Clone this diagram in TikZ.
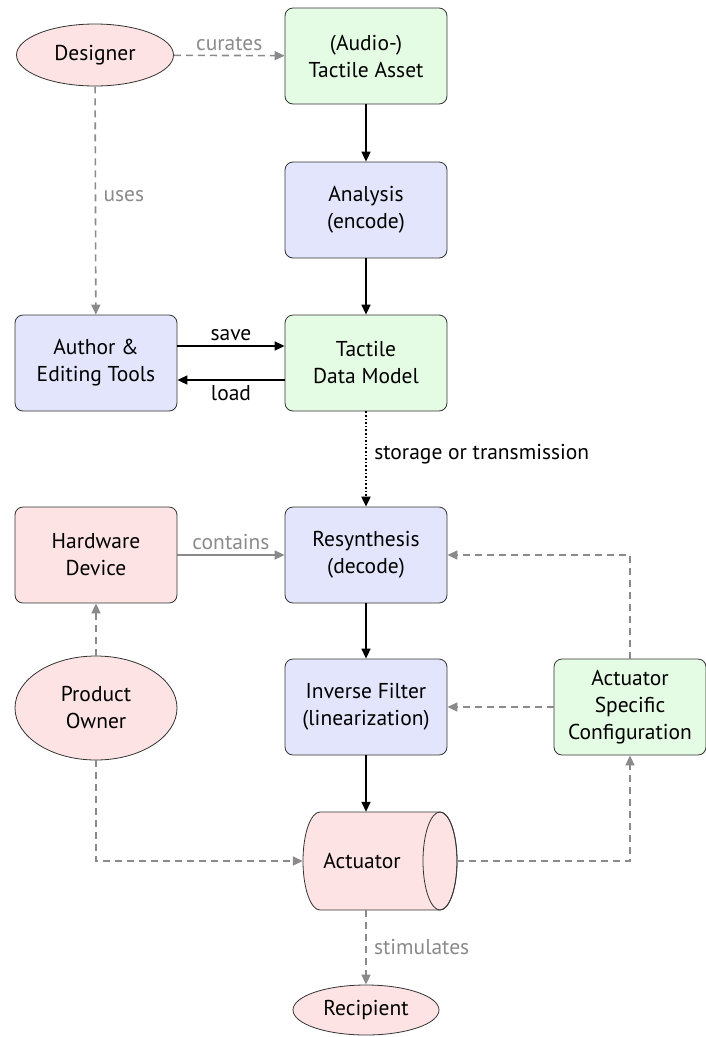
\documentclass[tikz,border=0pt]{standalone}
\usepackage{fontspec}
\setmainfont{PT Sans}
\usetikzlibrary{shapes.geometric,arrows.meta,positioning}
\definecolor{pinkf}{HTML}{FDE3E3}
\definecolor{greenf}{HTML}{E4FBE4}
\definecolor{bluef}{HTML}{E2E5FB}
\definecolor{grayl}{HTML}{8A8A8A}
\begin{document}
\begin{tikzpicture}[x=1pt,y=-1pt,
  every node/.style={font=\fontsize{21.5}{27}\selectfont},
  box/.style={draw=black!80,line width=0.8pt,rounded corners=8pt,minimum width=162pt,minimum height=96pt,align=center,inner sep=2pt},
  ell/.style={draw=black!80,line width=0.8pt,ellipse,align=center,inner sep=0pt},
  blk/.style={draw=black,line width=1.6pt,-{Triangle[length=10pt,width=9pt]}},
  gry/.style={draw=grayl,line width=1.6pt,-{Triangle[length=10pt,width=9pt]}},
  gdash/.style={gry,dash pattern=on 7pt off 5pt},
  glab/.style={text=grayl},
]
\useasboundingbox (0,0) rectangle (706,1037);
\node[ell,fill=pinkf,minimum width=157pt,minimum height=62pt] (designer) at (95,55) {Designer};
\node[box,fill=greenf] (asset) at (366,56) {(Audio-)\\Tactile Asset};
\node[box,fill=bluef] (analysis) at (366,210) {Analysis\\(encode)};
\node[box,fill=bluef] (author) at (96,363) {Author \&\\Editing Tools};
\node[box,fill=greenf] (model) at (366,363) {Tactile\\Data Model};
\node[box,fill=pinkf] (hw) at (96,555) {Hardware\\Device};
\node[box,fill=bluef] (resyn) at (366,555) {Resynthesis\\(decode)};
\node[ell,fill=pinkf,minimum width=162pt,minimum height=104pt] (owner) at (96,708) {Product\\Owner};
\node[box,fill=bluef] (inv) at (366,707) {Inverse Filter\\(linearization)};
\node[box,fill=greenf,minimum width=152pt] (config) at (630,707) {Actuator\\Specific\\Configuration};
% actuator cylinder drawn by hand
\filldraw[draw=black!80,fill=pinkf,line width=0.8pt]
  (320,812) -- (440,812) arc[start angle=90,end angle=-90,x radius=17,y radius=-49]
  -- (320,910) arc[start angle=270,end angle=90,x radius=17,y radius=-49] -- cycle;
\draw[draw=black!80,line width=0.8pt] (440,861) ellipse[x radius=17,y radius=49];
\node[minimum width=154pt,minimum height=98pt,inner sep=0pt] (act) at (380,861) {};
\node (actl) at (362,861) {Actuator};
\node[ell,fill=pinkf,minimum width=146pt,minimum height=50pt] (recip) at (366,1010) {Recipient};

\draw[gdash] (designer) -- node[glab,above=1pt] {curates} (asset);
\draw[blk] (asset) -- (analysis);
\draw[blk] (analysis) -- (model);
\draw[gdash] (designer) -- node[glab,right=4pt,pos=0.48] {uses} (author);
\draw[blk] (author.east |- 0,346) -- node[above=1pt] {save} (model.west |- 0,346);
\draw[blk] (model.west |- 0,380) -- node[below=1pt] {load} (author.east |- 0,380);
\draw[blk,dotted,line width=2pt] (model) -- node[right=4pt,pos=0.45] {storage or transmission} (resyn);
\draw[gry] (hw) -- node[glab,above=1pt] {contains} (resyn);
\draw[gdash] (owner) -- (hw);
\draw[blk] (resyn) -- (inv);
\draw[gdash] (config) -- (inv);
\draw[gdash] (config.north) |- (resyn.east);
\draw[blk] (inv) -- (inv.south |- act.north);
\draw[gdash] (owner.south) |- (act.west);
\draw[gdash] (act.east) -| (config.south);
\draw[gdash] (act.south -| recip.north) -- node[glab,right=4pt] {stimulates} (recip.north);
\end{tikzpicture}
\end{document}
